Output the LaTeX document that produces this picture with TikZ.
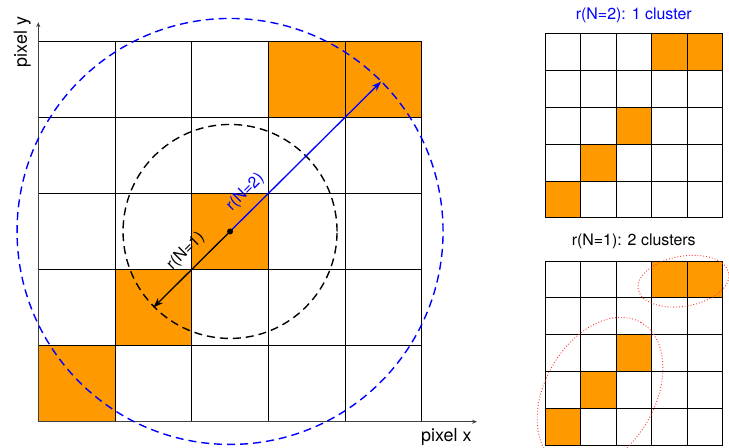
\documentclass[tikz,border=0pt]{standalone}
\usepackage{fontspec}
\setmainfont{TeX Gyre Heros}
\usetikzlibrary{arrows.meta,positioning,calc}
\definecolor{pixorange}{RGB}{255,153,0}

\begin{document}
\begin{tikzpicture}[
  x=1bp, y=1bp,
  gridline/.style={draw=black, line width=0.7bp},
  hit/.style={fill=pixorange},
  ring/.style={dash pattern=on 8bp off 5bp, line width=1.4bp},
  clus/.style={draw=red!80, dotted, line width=0.9bp},
  axis/.style={-{Stealth[length=5bp,width=4bp]}, line width=0.9bp, black!75},
  lbl/.style={font=\fontsize{16}{18}\selectfont, inner sep=1bp},
  big/.style={font=\fontsize{18}{20}\selectfont, inner sep=0pt},
  >={Stealth[length=10bp, width=7bp]}
]
  \useasboundingbox (0,0) rectangle (729,448);
  \clip (0,0) rectangle (729,448);

  % main grid
  \begin{scope}[shift={(38.3,26.3)}, x=76.7bp, y=76.1bp]
    \foreach \c/\r in {0/0,1/1,2/2,3/4,4/4}
      \fill[hit] (\c,\r) rectangle ++(1,1);
    \draw[gridline, xstep=1, ystep=1] (0,0) grid (5,5);
    \coordinate (orig) at (0,0);
    \coordinate (xend) at (5.72,0);
    \coordinate (yend) at (0,5.25);
    \draw[axis] (orig) -- (xend);
    \draw[axis] (orig) -- (yend);
    \node[big] (xlab) at (5.32,-0.2) {pixel x};
    \node[big, rotate=90] (ylab) at (-0.21,4.99) {pixel y};

    \coordinate (ctr) at (2.5,2.5);
    \coordinate (near) at (1.5,1.5);
    \coordinate (far) at (4.47,4.47);
    \draw[ring] (ctr) circle[radius=107bp];
    \draw[ring, blue] (ctr) circle[radius=213bp];
    \draw[->, line width=1.3bp] (ctr) -- (near);
    \draw[->, blue, line width=1.3bp] (ctr) -- (far);
    \node[lbl, rotate=45] (rone) at ($(ctr)!0.42!(near) + (-12bp,12bp)$) {r(N=1)};
    \node[lbl, rotate=45, text=blue] (rtwo) at ($(ctr)!0.18!(far) + (-12bp,12bp)$) {r(N=2)};
    \fill (ctr) circle[radius=3bp];
  \end{scope}

  % N=2 result
  \begin{scope}[shift={(545,230.3)}, x=35.5bp, y=36.8bp]
    \foreach \c/\r in {0/0,1/1,2/2,3/4,4/4}
      \fill[hit] (\c,\r) rectangle ++(1,1);
    \draw[gridline, xstep=1, ystep=1] (0,0) grid (5,5);
    \node[lbl, text=blue] (ttltwo) at (2.5,5.51) {r(N=2): 1 cluster};
  \end{scope}

  % N=1 result
  \begin{scope}[shift={(545,3)}, x=35.5bp, y=36.8bp]
    \foreach \c/\r in {0/0,1/1,2/2,3/4,4/4}
      \fill[hit] (\c,\r) rectangle ++(1,1);
    \draw[gridline, xstep=1, ystep=1] (0,0) grid (5,5);
    \node[lbl] (ttlone) at (2.5,5.52) {r(N=1): 2 clusters};
    \coordinate (pairc) at (3.9,4.45);
    \coordinate (diagc) at (1.55,1.4);
    \draw[clus, rotate around={10:(pairc)}] (pairc) ellipse[x radius=46bp, y radius=25bp];
    \draw[clus, rotate around={60:(diagc)}] (diagc) ellipse[x radius=82bp, y radius=55bp];
  \end{scope}
\end{tikzpicture}
\end{document}
